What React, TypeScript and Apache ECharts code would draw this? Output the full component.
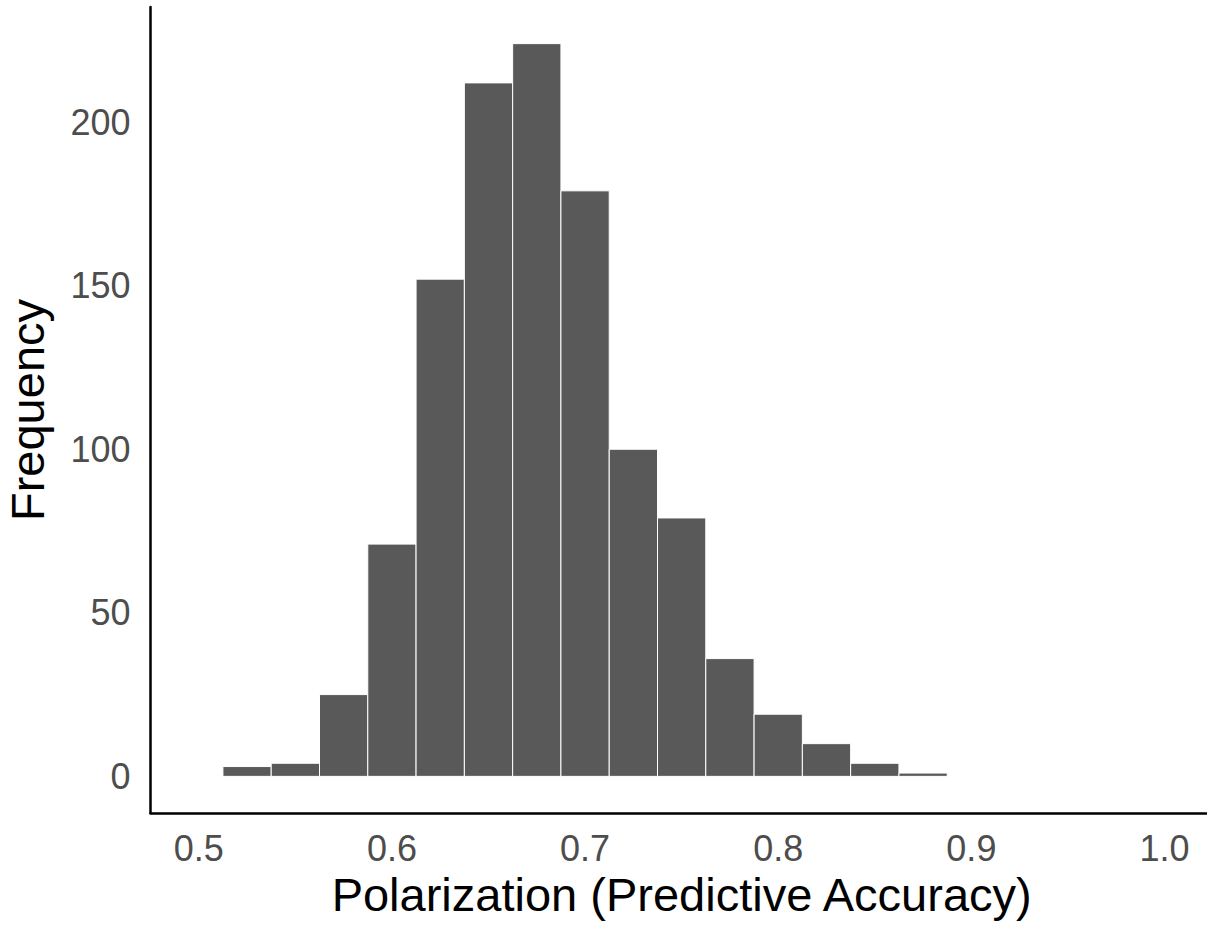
import React, { useEffect, useRef } from "react";
import * as echarts from "echarts";

// Histogram bins (left edges) and bin width
const binStarts = [0.5125, 0.5375, 0.5625, 0.5875, 0.6125, 0.6375, 0.6625, 0.6875, 0.7125, 0.7375, 0.7625, 0.7875, 0.8125, 0.8375, 0.8625];
const binWidth = 0.025;
// Frequency in each bin
const counts = [3, 4, 25, 71, 152, 212, 224, 179, 100, 79, 36, 19, 10, 4, 1];
// Tick labels
const xTicks = [0.5, 0.6, 0.7, 0.8, 0.9, 1.0];
const yTicks = [0, 50, 100, 150, 200];

const xTitle = "Polarization (Predictive Accuracy)";
const yTitle = "Frequency";

const FONT = "'Liberation Sans', Arial, Helvetica, sans-serif";

export default function App() {
  const ref = useRef<HTMLDivElement>(null);

  useEffect(() => {
    if (!ref.current) return;
    const chart = echarts.init(ref.current, null, { renderer: "svg" });
    const data = binStarts.map((s, i) => [s, s + binWidth, counts[i]]);
    chart.setOption({
      animation: false,
      backgroundColor: "#ffffff",
      grid: {
        left: 150.5,
        right: 1.2,
        top: 7,
        bottom: 115,
        containLabel: false,
        outerBoundsMode: "none",
      },
      xAxis: {
        type: "value",
        min: 0.475,
        max: 1.025,
        splitLine: { show: false },
        axisTick: { show: false },
        axisLine: { show: true, onZero: false, lineStyle: { color: "#000000", width: 2.5 } },
        axisLabel: {
          customValues: xTicks,
          formatter: (v: number) => v.toFixed(1),
          color: "#4D4D4D",
          fontSize: 36,
          fontFamily: FONT,
          margin: 17,
        },
        name: xTitle,
        nameLocation: "middle",
        nameGap: 50,
        nameTextStyle: { color: "#000000", fontSize: 47, fontFamily: FONT },
      },
      yAxis: {
        type: "value",
        min: -11.2,
        max: 235.2,
        splitLine: { show: false },
        axisTick: { show: false },
        axisLine: { show: true, onZero: false, lineStyle: { color: "#000000", width: 2.5 } },
        axisLabel: {
          customValues: yTicks,
          formatter: (v: number) => String(v),
          color: "#4D4D4D",
          fontSize: 36,
          fontFamily: FONT,
          margin: 20,
          padding: [7, 0, 0, 0],
        },
        name: yTitle,
        nameLocation: "middle",
        nameRotate: 90,
        nameGap: 100,
        nameTextStyle: { color: "#000000", fontSize: 47, fontFamily: FONT },
      },
      series: [
        {
          type: "custom",
          encode: { x: [0, 1], y: 2 },
          data,
          renderItem: (params: any, api: any) => {
            const x0 = api.value(0);
            const x1 = api.value(1);
            const y = api.value(2);
            const p0 = api.coord([x0, y]);
            const p1 = api.coord([x1, 0]);
            return {
              type: "rect",
              shape: { x: p0[0], y: p0[1], width: p1[0] - p0[0], height: p1[1] - p0[1] },
              style: { fill: "#595959", stroke: "#ffffff", lineWidth: 1 },
            };
          },
        },
      ],
    });
    return () => chart.dispose();
  }, []);

  return (
    <div
      ref={ref}
      style={{ position: "fixed", left: 0, top: 0, width: 1214, height: 928, background: "#ffffff" }}
    />
  );
}
